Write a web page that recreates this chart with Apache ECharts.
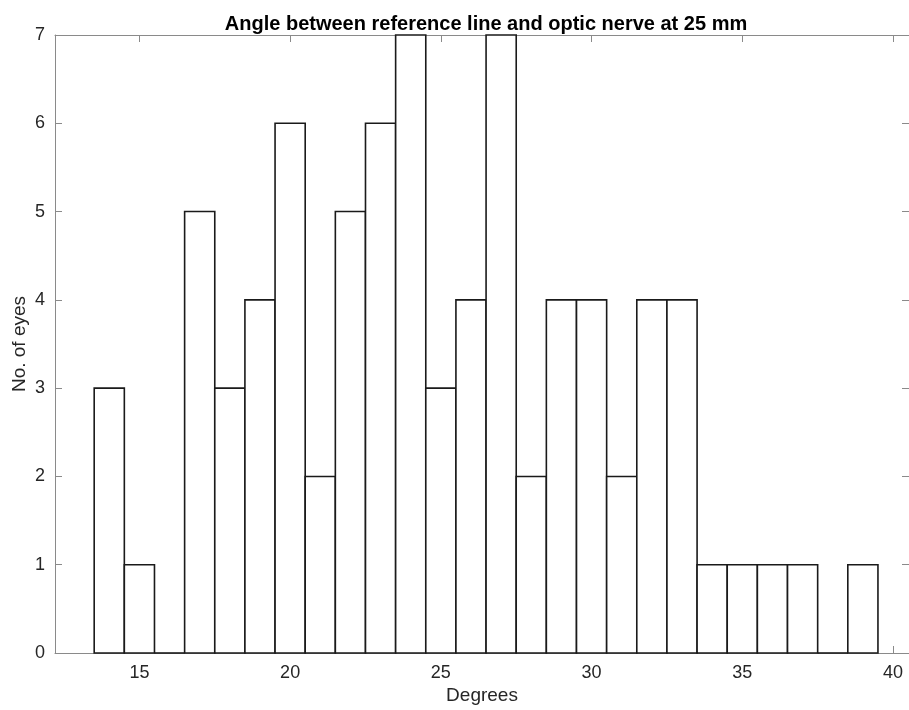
<!DOCTYPE html>
<html>
<head>
<meta charset="UTF-8">
<title>Angle histogram</title>
<script src="https://cdn.jsdelivr.net/npm/echarts@6/dist/echarts.min.js"></script>
<style>
html,body{
margin:0;
padding:0;
background:#fff;
}
#chart{
width:909px;
height:710px;
}
</style>
</head>
<body>

<div id="chart"></div>

<script>

// bin centres (degrees), one-degree bins
const binCenters = [14,15,16,17,18,19,20,21,22,23,24,25,26,27,28,29,30,31,32,33,34,35,36,37,38,39]
const counts     = [3,1,0,5,3,4,6,2,5,6,7,3,4,7,2,4,4,2,4,4,1,1,1,1,0,1]
const binWidth = 1

const xTicks = [15,20,25,30,35,40]

const title = "Angle between reference line and optic nerve at 25 mm"
const xName = "Degrees"
const yName = "No. of eyes"

const axisColor = "#8a8a8a"
const textColor = "#262626"
const barEdge = "#1a1a1a"
const font = "Helvetica, Arial, 'Liberation Sans', sans-serif"

const chart = echarts.init(document.getElementById("chart"))

const data = binCenters.map((c,i)=>[c,counts[i]])

chart.setOption({

 animation:false,

 title:{
  text:title,
  left:481,
  textAlign:"center",
  top:9,
  textStyle:{
   fontFamily:font,
   fontSize:20,
   fontWeight:"bold",
   color:"#000"
  }
 },

 grid:{
  left:55,
  right:0,
  top:35,
  bottom:57,
  outerBoundsMode:"none"
 },

 xAxis:[
  {
   type:"value",
   min:12.2,
   max:40.53,
   name:xName,
   nameLocation:"middle",
   nameGap:33,
   nameMoveOverlap:false,
   nameTextStyle:{ fontFamily:font, fontSize:19, color:textColor },
   axisLine:{ show:true, onZero:false, lineStyle:{ color:axisColor, width:1 } },
   axisTick:{ show:true, inside:true, length:7, customValues:xTicks, lineStyle:{ color:axisColor } },
   axisLabel:{ customValues:xTicks, margin:11, fontFamily:font, fontSize:18, color:textColor },
   splitLine:{ show:false }
  },
  {
   type:"value",
   position:"top",
   min:12.2,
   max:40.53,
   axisLine:{ show:true, onZero:false, lineStyle:{ color:axisColor, width:1 } },
   axisTick:{ show:true, inside:true, length:7, customValues:xTicks, lineStyle:{ color:axisColor } },
   axisLabel:{ show:false },
   splitLine:{ show:false }
  }
 ],

 yAxis:[
  {
   type:"value",
   min:0,
   max:7,
   interval:1,
   name:yName,
   nameLocation:"middle",
   nameGap:26,
   nameMoveOverlap:false,
   nameTextStyle:{ fontFamily:font, fontSize:19, color:textColor },
   axisLine:{ show:true, lineStyle:{ color:axisColor, width:1 } },
   axisTick:{ show:true, inside:true, length:7, lineStyle:{ color:axisColor } },
   axisLabel:{ margin:10, fontFamily:font, fontSize:18, color:textColor },
   splitLine:{ show:false }
  },
  {
   type:"value",
   position:"right",
   min:0,
   max:7,
   interval:1,
   axisLine:{ show:false },
   axisTick:{ show:true, inside:true, length:7, lineStyle:{ color:axisColor } },
   axisLabel:{ show:false },
   splitLine:{ show:false }
  }
 ],

 series:[
  {
   type:"custom",
   xAxisIndex:0,
   yAxisIndex:0,
   data:data,
   renderItem:function(params,api){
    const x = api.value(0)
    const y = api.value(1)
    const a = api.coord([x-binWidth/2,y])
    const b = api.coord([x+binWidth/2,0])
    if(y===0){
     // empty bin: MATLAB still draws its outline on the baseline
     return {
      type:"line",
      shape:{ x1:a[0], y1:b[1], x2:b[0], y2:b[1] },
      style:{ stroke:barEdge, lineWidth:1.6 }
     }
    }
    return {
     type:"rect",
     shape:{ x:a[0], y:a[1], width:b[0]-a[0], height:b[1]-a[1] },
     style:{ fill:"#fff", stroke:barEdge, lineWidth:1.6 }
    }
   }
  }
 ]

})

</script>

</body>
</html>
